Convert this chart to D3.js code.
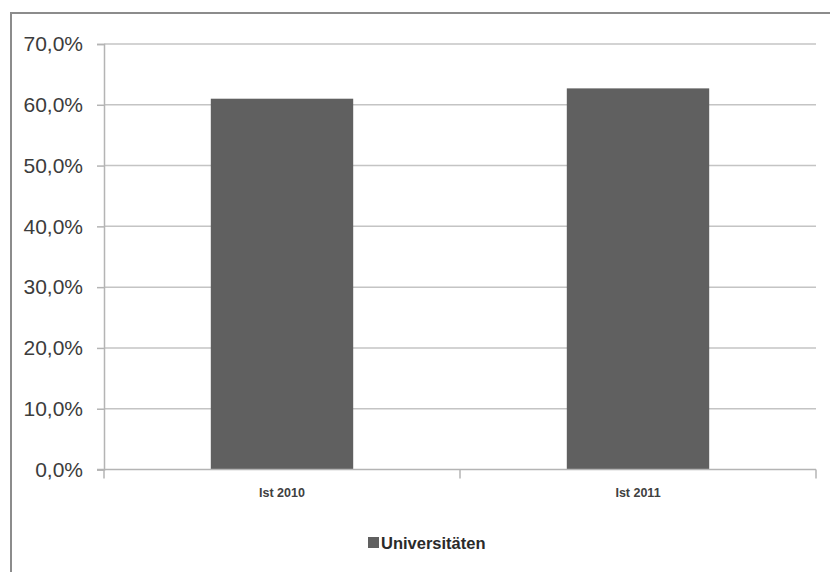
<!DOCTYPE html>
<html><head><meta charset="utf-8">
<script src="https://cdn.jsdelivr.net/npm/d3@7"></script>
<style>body{margin:0;background:#fff}svg{display:block}</style>
</head><body>
<script>
const categories = ["Ist 2010", "Ist 2011"];
const values = [61.0, 62.7];
const seriesName = "Universitäten";
const yTicks = [0, 10, 20, 30, 40, 50, 60, 70];

(function () {
const W = 830, H = 572;
const svg = d3.select("body").append("svg").attr("width", W).attr("height", H);

// outer chart border (cropped on right/bottom)
svg.append("rect").attr("x", 11).attr("y", 13).attr("width", 840).attr("height", 600)
  .attr("fill", "none").attr("stroke", "#8c8c8c").attr("stroke-width", 2);

const pL = 104, pR = 816, pT = 44, pB = 469.5;
const y = d3.scaleLinear().domain([0, 70]).range([pB, pT]);
const x = d3.scaleBand().domain(categories).range([pL, pR]).paddingInner(0.6).paddingOuter(0.3);
const xCat = d3.scaleBand().domain(categories).range([pL, pR]);

// gridlines
svg.append("g").selectAll("line").data(yTicks.filter(t => t > 0)).join("line")
  .attr("x1", pL).attr("x2", pR).attr("y1", d => y(d)).attr("y2", d => y(d))
  .attr("stroke", "#c4c4c4").attr("stroke-width", 1.5);

// bars
svg.append("g").selectAll("rect").data(values).join("rect")
  .attr("x", (d, i) => x(categories[i])).attr("width", x.bandwidth())
  .attr("y", d => y(d)).attr("height", d => y(0) - y(d))
  .attr("fill", "#606060");

// y axis
const yAxis = d3.axisLeft(y).tickValues(yTicks).tickSize(7).tickPadding(14)
  .tickFormat(d => d3.format(".1f")(d).replace(".", ",") + "%");
const gy = svg.append("g").attr("transform", `translate(${pL},0)`).call(yAxis);
gy.select(".domain").attr("stroke", "#b4b4b4").attr("stroke-width", 1.5);
gy.selectAll(".tick line").attr("stroke", "#b4b4b4").attr("stroke-width", 1.5);
gy.selectAll(".tick text").attr("font-family", "Liberation Sans, Arial, sans-serif")
  .attr("font-size", 21).attr("fill", "#3c3c3c");

// x axis
const gx = svg.append("g").attr("transform", `translate(0,${pB})`)
  .call(d3.axisBottom(x).tickSize(0).tickPadding(19));
gx.select(".domain").remove();
svg.append("line").attr("x1", pL - 7).attr("x2", pR).attr("y1", pB).attr("y2", pB)
  .attr("stroke", "#b4b4b4").attr("stroke-width", 1.5);
const bounds = [pL, ...categories.map(c => xCat(c) + xCat.bandwidth())];
svg.append("g").selectAll("line").data(bounds).join("line")
  .attr("x1", d => d).attr("x2", d => d).attr("y1", pB).attr("y2", pB + 9)
  .attr("stroke", "#b4b4b4").attr("stroke-width", 1.5);
gx.selectAll(".tick text").attr("font-family", "Liberation Sans, Arial, sans-serif")
  .attr("font-size", 12.5).attr("font-weight", "bold").attr("fill", "#404040");

// legend
const lg = svg.append("g").attr("transform", "translate(368,537)");
lg.append("rect").attr("width", 11).attr("height", 11).attr("fill", "#606060");
lg.append("text").attr("x", 13).attr("y", 11.5).text(seriesName)
  .attr("font-family", "Liberation Sans, Arial, sans-serif").attr("font-size", 16.5)
  .attr("font-weight", "bold").attr("fill", "#2a2a2a");
})();
</script>
</body></html>
